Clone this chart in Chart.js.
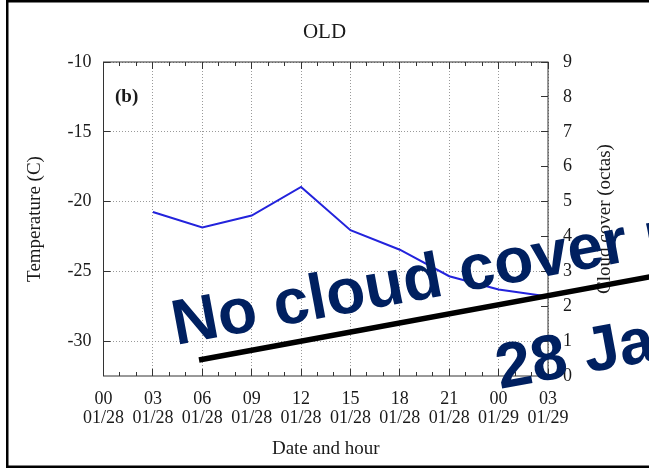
<!DOCTYPE html>
<html>
<head>
<meta charset="utf-8">
<script src="https://cdn.jsdelivr.net/npm/chart.js@4.4.0/dist/chart.umd.min.js"></script>
<style>
  html, body { margin: 0; padding: 0; background: #fff; }
</style>
</head>
<body>
<canvas id="chart" width="649" height="468"></canvas>
<script>
// ---- values ----
// hours counted from 00 01/28
const hours = [3, 6, 9, 12, 15, 18, 21, 24, 27];
const temps = [-20.75, -21.85, -21.0, -18.95, -22.05, -23.45, -25.35, -26.3, -26.8];

const hourLabels = ["00", "03", "06", "09", "12", "15", "18", "21", "00", "03"];
const dateLabels = ["01/28", "01/28", "01/28", "01/28", "01/28", "01/28", "01/28", "01/28", "01/29", "01/29"];
const tempTicks = [-10, -15, -20, -25, -30];
const cloudTicks = [0, 1, 2, 3, 4, 5, 6, 7, 8, 9];

const serif = "'Liberation Serif', 'DejaVu Serif', serif";
const textColor = "#1a1a1a";

// frame, inner tick marks, right label and the pasted-on note
const decor = {
  id: "decor",
  beforeDraw(chart) {
    const ctx = chart.ctx;
    ctx.save();
    ctx.fillStyle = "#fff";
    ctx.fillRect(0, 0, chart.width, chart.height);
    ctx.restore();
  },
  afterDraw(chart) {
    const { ctx, chartArea: a, scales: { x, y, y2 } } = chart;
    ctx.save();

    // plot border
    ctx.strokeStyle = "#333";
    ctx.lineWidth = 1;
    ctx.strokeRect(a.left, a.top, a.right - a.left, a.bottom - a.top);

    // ticks pointing inward (hour minors, 3h majors)
    ctx.beginPath();
    for (let h = 0; h <= 27; h++) {
      const px = Math.floor(x.getPixelForValue(h)) + 0.5;
      const len = h % 3 === 0 ? 7 : 4;
      ctx.moveTo(px, a.bottom); ctx.lineTo(px, a.bottom - len);
      ctx.moveTo(px, a.top); ctx.lineTo(px, a.top + len);
    }
    tempTicks.forEach(v => {
      const py = Math.floor(y.getPixelForValue(v)) + 0.5;
      ctx.moveTo(a.left, py); ctx.lineTo(a.left + 7, py);
    });
    cloudTicks.forEach(v => {
      const py = Math.floor(y2.getPixelForValue(v)) + 0.5;
      ctx.moveTo(a.right - 7, py); ctx.lineTo(a.right, py);
    });
    ctx.stroke();

    // panel letter
    ctx.fillStyle = textColor;
    ctx.font = "bold 19px " + serif;
    ctx.textAlign = "left";
    ctx.textBaseline = "alphabetic";
    ctx.fillText("(b)", a.left + 11.5, a.top + 40);

    // right axis title, reading bottom to top like gnuplot
    ctx.save();
    ctx.translate(605.5, (a.top + a.bottom) / 2);
    ctx.rotate(-Math.PI / 2);
    ctx.textAlign = "center";
    ctx.textBaseline = "middle";
    ctx.font = "19px " + serif;
    ctx.fillText("Cloud cover (octas)", 0, 0);
    ctx.restore();

    // outer frame
    ctx.strokeStyle = "#000";
    ctx.lineWidth = 2.5;
    ctx.strokeRect(7.25, 1.25, 800, 465.5);

    // note overlay
    const ang = -10.5 * Math.PI / 180;
    ctx.strokeStyle = "#000";
    ctx.lineWidth = 5.5;
    ctx.beginPath();
    ctx.moveTo(199, 360);
    ctx.lineTo(660, 275);
    ctx.stroke();

    ctx.fillStyle = "#002060";
    ctx.font = "bold 64px 'Liberation Sans', Arial, sans-serif";
    ctx.textAlign = "left";
    ctx.textBaseline = "alphabetic";
    ctx.save();
    ctx.translate(176, 345);
    ctx.rotate(ang);
    ctx.fillText("No cloud cover r", 0, 0);
    ctx.restore();
    ctx.save();
    ctx.translate(500, 389);
    ctx.rotate(ang);
    ctx.fillText("28 Jan", 0, 0);
    ctx.restore();

    ctx.restore();
  }
};

new Chart(document.getElementById("chart"), {
  type: "line",
  data: {
    datasets: [{
      data: hours.map((h, i) => ({ x: h, y: temps[i] })),
      borderColor: "#2323dc",
      borderWidth: 2,
      pointRadius: 0,
      tension: 0,
      fill: false,
      yAxisID: "y"
    }]
  },
  options: {
    responsive: false,
    animation: false,
    layout: { padding: 0 },
    plugins: {
      legend: { display: false },
      tooltip: { enabled: false },
      title: {
        display: true,
        text: "OLD",
        color: textColor,
        font: { family: serif, size: 21, weight: "normal" },
        padding: { top: 20, bottom: 16.8 }
      }
    },
    scales: {
      x: {
        type: "linear",
        position: "bottom",
        min: 0,
        max: 27,
        afterBuildTicks: s => { s.ticks = hourLabels.map((_, i) => ({ value: i * 3 })); },
        afterFit: s => { s.height = 92; },
        ticks: {
          autoSkip: false,
          maxRotation: 0,
          padding: 14,
          color: textColor,
          font: { family: serif, size: 18, lineHeight: 1.05 },
          callback: (v, i) => [hourLabels[i], dateLabels[i]]
        },
        grid: { color: "#9a9a9a", lineWidth: 1, drawTicks: false },
        border: { display: false, dash: [1, 2] },
        title: {
          display: true,
          text: "Date and hour",
          color: textColor,
          font: { family: serif, size: 19 },
          padding: { top: 0, bottom: 8 }
        }
      },
      y: {
        position: "left",
        min: -32.5,
        max: -10,
        afterBuildTicks: s => { s.ticks = tempTicks.map(v => ({ value: v })); },
        afterFit: s => { s.width = 103.5; },
        ticks: {
          padding: 12,
          color: textColor,
          font: { family: serif, size: 18 }
        },
        grid: { color: "#9a9a9a", lineWidth: 1, drawTicks: false },
        border: { display: false, dash: [1, 2] },
        title: {
          display: true,
          text: "Temperature (C)",
          color: textColor,
          font: { family: serif, size: 19 },
          padding: { top: 23.5, bottom: 0 }
        }
      },
      y2: {
        position: "right",
        min: 0,
        max: 9,
        afterBuildTicks: s => { s.ticks = cloudTicks.map(v => ({ value: v })); },
        afterFit: s => { s.width = 101; },
        ticks: {
          padding: 15,
          color: textColor,
          font: { family: serif, size: 18 }
        },
        grid: { display: false, drawTicks: false },
        border: { display: false }
      }
    }
  },
  plugins: [decor]
});
</script>
</body>
</html>
